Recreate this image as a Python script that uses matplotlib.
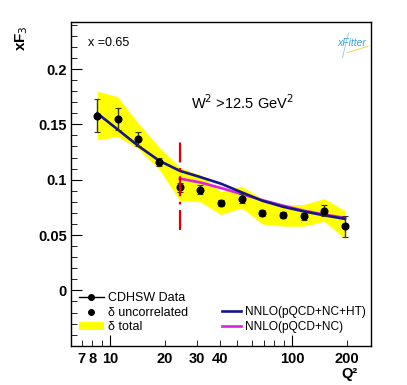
import numpy as np
import matplotlib
matplotlib.use("Agg")
import matplotlib.pyplot as plt
from matplotlib.patches import Patch
from matplotlib.lines import Line2D
from matplotlib.ticker import FixedLocator, NullFormatter

plt.rcParams['font.family'] = ['Liberation Sans', 'DejaVu Sans']

# ── Data ──────────────────────────────────────────────────────────────────────
q2       = [8.5, 11.0, 14.3, 18.7, 24.2, 31.3, 40.7, 52.9, 68.7, 89.6, 116.0, 150.5, 195.4]
xf3      = [0.158, 0.155, 0.137, 0.116, 0.093, 0.091, 0.079, 0.083, 0.070, 0.068, 0.067, 0.072, 0.058]
err_unc  = [0.015, 0.010, 0.0065, 0.004, 0.004, 0.004, 0.003, 0.004, 0.003, 0.003, 0.003, 0.005, 0.0096]
band_hi  = [0.180, 0.175, 0.151, 0.129, 0.111, 0.1045, 0.089, 0.094, 0.083, 0.0775, 0.0775, 0.083, 0.072]
band_lo  = [0.136, 0.139, 0.128, 0.109, 0.081, 0.080, 0.0685, 0.0745, 0.060, 0.058, 0.058, 0.0625, 0.0466]

nnlo_ht  = [0.160, 0.1455, 0.1305, 0.117, 0.108, 0.1024, 0.0964, 0.0886, 0.081, 0.0755, 0.0714, 0.0678, 0.0646]
q2_nc    = q2[4:]
nnlo_nc  = [0.101, 0.0975, 0.0925, 0.087, 0.0815, 0.0765, 0.072, 0.0685, 0.0655]

w2_cut_q2 = 24.2
w2_cut_y  = [0.0545, 0.1345]

xtick_major = [10, 100]
xtick_minor = [7, 8, 9, 20, 30, 40, 50, 60, 70, 80, 90, 200]
xtick_lab_pos = [7, 8, 10, 20, 30, 40, 100, 200]

# ── Figure ────────────────────────────────────────────────────────────────────
fig = plt.figure(figsize=(4.07, 3.85), dpi=100)
ax = fig.add_axes([71/407, 1 - 345.7/385, 300/407, 323.7/385])

ax.fill_between(q2, band_lo, band_hi, color='#ffff00', linewidth=0, zorder=1)
ax.plot(q2, nnlo_ht, color='#15158f', lw=1.9, zorder=3)
ax.plot(q2_nc, nnlo_nc, color='#e020e0', lw=1.9, zorder=2)
ax.errorbar(q2, xf3, yerr=err_unc, fmt='o', color='black', ms=4.8,
            elinewidth=1.0, capsize=2, capthick=0.8, ecolor='#333333', zorder=4)
ax.plot([w2_cut_q2, w2_cut_q2], w2_cut_y, color='#e00000', lw=1.6,
        linestyle=(0, (9, 2.5, 1.2, 2.5)), zorder=5)

ax.set_xscale('log')
ax.set_xlim(6.1, 272)
ax.set_ylim(-0.05, 0.2425)

# x ticks: ROOT-like, inside, only bottom
ax.xaxis.set_major_locator(FixedLocator(xtick_major))
ax.xaxis.set_minor_locator(FixedLocator(xtick_minor))
ax.xaxis.set_major_formatter(NullFormatter())
ax.xaxis.set_minor_formatter(NullFormatter())
for v in xtick_lab_pos:
    ax.text(v, -0.0555, str(v), transform=ax.transData, ha='center', va='top',
            fontsize=10.5, fontweight='bold')

ax.set_yticks([0, 0.05, 0.1, 0.15, 0.2])
ax.set_yticklabels(['0', '0.05', '0.1', '0.15', '0.2'])
ax.yaxis.set_minor_locator(FixedLocator(np.arange(-0.04, 0.245, 0.01)))
ax.tick_params(axis='both', which='both', direction='in', top=False, right=False)
ax.tick_params(axis='y', which='major', length=8, labelsize=10.5, pad=3)
ax.tick_params(axis='y', which='minor', length=4)
ax.tick_params(axis='x', which='major', length=8)
ax.tick_params(axis='x', which='minor', length=4)
for lab in ax.get_yticklabels():
    lab.set_fontweight('bold')
for sp in ax.spines.values():
    sp.set_linewidth(1.0)

# labels
fig.text(22/407, 1 - 38/385, r'xF$_{3}$', rotation=90, ha='center', va='center',
         fontsize=11, fontweight='bold')
fig.text(349/407, 1 - 374/385, 'Q\u00b2', ha='center', va='center',
         fontsize=10.5, fontweight='bold')

ax.text(0.055, 0.955, 'x =0.65', transform=ax.transAxes, ha='left', va='top', fontsize=9)
ax.text(0.57, 0.75, r'W$^{2}$ >12.5 GeV$^{2}$', transform=ax.transAxes,
        ha='center', va='center', fontsize=10.5)

# xFitter logo (text stand-in)
ax.text(0.935, 0.935, 'xFitter', transform=ax.transAxes, ha='center', va='center',
        fontsize=7.5, style='italic', color='#3aa0e0')
ax.plot([0.925, 0.915, 0.905], [0.965, 0.93, 0.89], transform=ax.transAxes,
        color='#8cc8f0', lw=0.6)
ax.plot([0.92, 0.99], [0.905, 0.925], transform=ax.transAxes, color='#f5d070', lw=0.8)

# legends
h_data = Line2D([], [], color='black', marker='o', ms=4, lw=1.0)
h_unc = Line2D([], [], color='black', marker='o', ms=4, lw=0)
h_tot = Patch(facecolor='#ffff00', edgecolor='none')
leg1 = ax.legend([h_data, h_unc, h_tot], ['CDHSW Data', '\u03b4 uncorrelated', '\u03b4 total'],
                 loc='lower left', bbox_to_anchor=(0.025, 0.038), frameon=False,
                 fontsize=9, handlelength=2.0, handletextpad=0.35, labelspacing=0.2,
                 borderaxespad=0, borderpad=0)
ax.add_artist(leg1)
h_ht = Line2D([], [], color='#15158f', lw=1.9)
h_nc = Line2D([], [], color='#e020e0', lw=1.9)
ax.legend([h_ht, h_nc], ['NNLO(pQCD+NC+HT)', 'NNLO(pQCD+NC)'],
          loc='lower left', bbox_to_anchor=(0.503, 0.038), frameon=False,
          fontsize=8.6, handlelength=1.6, handletextpad=0.35, labelspacing=0.25,
          borderaxespad=0, borderpad=0)

fig.savefig('out.png', dpi=100)
